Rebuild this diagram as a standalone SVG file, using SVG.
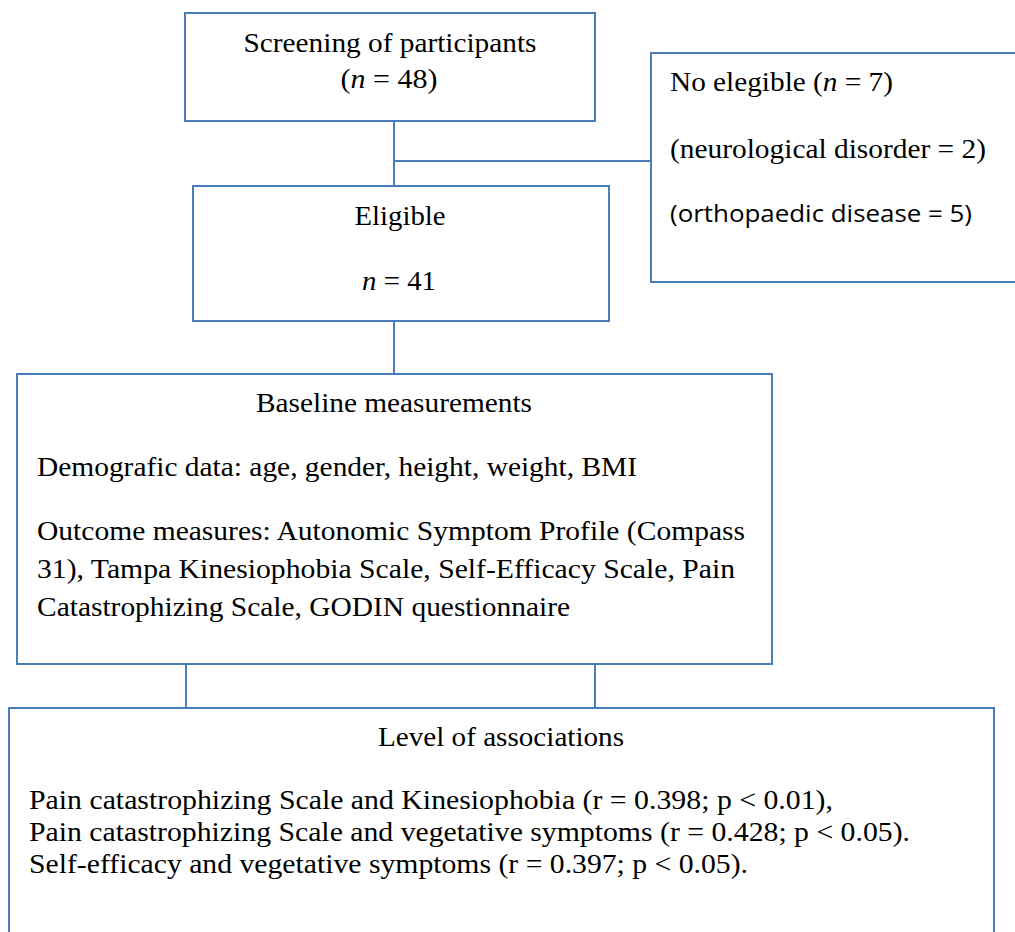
<svg xmlns="http://www.w3.org/2000/svg" width="1015" height="932" viewBox="0 0 1015 932">
<style>
.box{fill:#fff;stroke:#4a7ebb;stroke-width:2}
.ln{stroke:#4a7ebb;stroke-width:2;fill:none}
.c{text-anchor:middle}
</style>
<rect width="1015" height="932" fill="#fff"/>
<g id="connectors">
<path class="ln" d="M394 121V186M394 161H651M394 321V374M186 664V708M595 664V708"/>
</g>
<g font-family="Liberation Serif, serif" font-size="27" fill="#000">
<g id="screening">
<rect class="box" x="185" y="13" width="410" height="108"/>
<text class="c" x="390" y="52" textLength="293" lengthAdjust="spacingAndGlyphs">Screening of participants</text>
<text class="c" x="389" y="88" textLength="97" lengthAdjust="spacingAndGlyphs">(<tspan font-style="italic">n</tspan> = 48)</text>
</g>
<g id="noeligible">
<rect class="box" x="651" y="53" width="370" height="229"/>
<text x="670" y="91" textLength="223" lengthAdjust="spacingAndGlyphs">No elegible (<tspan font-style="italic">n</tspan> = 7)</text>
<text x="670" y="158" textLength="316" lengthAdjust="spacingAndGlyphs">(neurological disorder = 2)</text>
<text x="670" y="222" font-family="Open Sans, Liberation Sans, sans-serif" font-size="23" textLength="302" lengthAdjust="spacingAndGlyphs">(orthopaedic disease = 5)</text>
</g>
<g id="eligible">
<rect class="box" x="193" y="186" width="416" height="135"/>
<text class="c" x="400" y="225" font-size="28" textLength="91" lengthAdjust="spacingAndGlyphs">Eligible</text>
<text class="c" x="399" y="290" font-size="28" textLength="74" lengthAdjust="spacingAndGlyphs"><tspan font-style="italic">n</tspan> = 41</text>
</g>
<g id="baseline">
<rect class="box" x="17" y="374" width="755" height="290"/>
<text class="c" x="394" y="412" textLength="276" lengthAdjust="spacingAndGlyphs">Baseline measurements</text>
<text x="37" y="476" font-size="28" textLength="600" lengthAdjust="spacingAndGlyphs">Demografic data: age, gender, height, weight, BMI</text>
<text x="37" y="540" font-size="28" textLength="708" lengthAdjust="spacingAndGlyphs">Outcome measures: Autonomic Symptom Profile (Compass</text>
<text x="37" y="578" font-size="28" textLength="698" lengthAdjust="spacingAndGlyphs">31), Tampa Kinesiophobia Scale, Self-Efficacy Scale, Pain</text>
<text x="37" y="616" font-size="28" textLength="533" lengthAdjust="spacingAndGlyphs">Catastrophizing Scale, GODIN questionnaire</text>
</g>
<g id="associations">
<rect class="box" x="9" y="708" width="985" height="240"/>
<text class="c" x="501" y="746" textLength="246" lengthAdjust="spacingAndGlyphs">Level of associations</text>
<text x="29" y="809" textLength="804" lengthAdjust="spacingAndGlyphs">Pain catastrophizing Scale and Kinesiophobia (r = 0.398; p &lt; 0.01),</text>
<text x="29" y="841" textLength="881" lengthAdjust="spacingAndGlyphs">Pain catastrophizing Scale and vegetative symptoms (r = 0.428; p &lt; 0.05).</text>
<text x="29" y="873" textLength="719" lengthAdjust="spacingAndGlyphs">Self-efficacy and vegetative symptoms (r = 0.397; p &lt; 0.05).</text>
</g>
</g>
</svg>
